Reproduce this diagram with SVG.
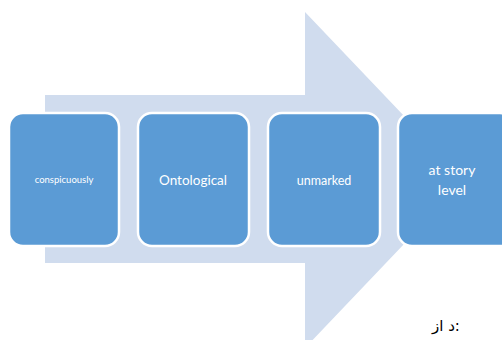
<svg xmlns="http://www.w3.org/2000/svg" width="502" height="340" viewBox="0 0 502 340">
<style>
.box{fill:#5B9BD5;stroke:#FFFFFF;stroke-width:2.5}
.lbl{fill:#FFFFFF;font-family:Lato,"Open Sans",sans-serif;text-anchor:middle}
</style>
<rect width="502" height="340" fill="#FFFFFF"/>
<g id="arrow">
<polygon points="45,95 305,95 305,12 465,180 305,348 305,263 45,263" fill="#D0DCEE"/>
</g>
<g id="connectors"></g>
<g id="node1">
<rect class="box" x="9" y="113" width="110" height="133" rx="14"/>
<text class="lbl" x="64" y="183" font-size="9.5">conspicuously</text>
</g>
<g id="node2">
<rect class="box" x="138" y="113" width="111" height="133" rx="14"/>
<text class="lbl" x="193" y="185" font-size="13.5">Ontological</text>
</g>
<g id="node3">
<rect class="box" x="268" y="113" width="112" height="133" rx="14"/>
<text class="lbl" x="324" y="185" font-size="12.5">unmarked</text>
</g>
<g id="node4">
<rect class="box" x="398" y="113" width="116" height="133" rx="14"/>
<text class="lbl" x="452" y="175" font-size="14">at story</text>
<text class="lbl" x="452" y="195" font-size="14">level</text>
</g>
<text x="432" y="331" font-family="'DejaVu Sans',sans-serif" font-weight="normal" font-size="15" fill="#000000">د از:</text>
</svg>
